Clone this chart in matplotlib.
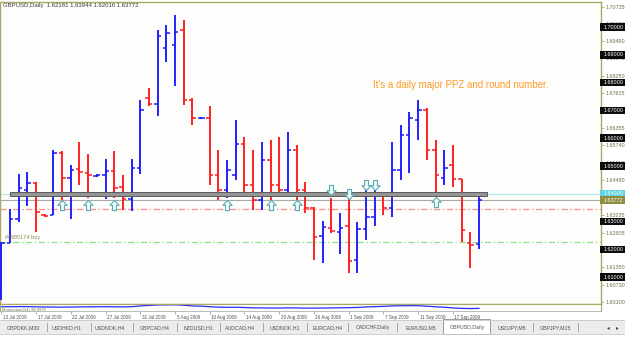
import matplotlib
matplotlib.use("Agg")
import matplotlib.pyplot as plt
import numpy as np
from matplotlib.path import Path
from matplotlib.patches import Rectangle
import matplotlib.transforms as mtransforms

# ---------------- data ----------------
symbol_header = "GBPUSD,Daily  1.62181 1.63944 1.62016 1.63772"
opens = [1.6054, 1.6223, 1.6309, 1.6414, 1.6439, 1.6324, 1.6324, 1.6547, 1.6457, 1.6489,
         1.6475, 1.6464, 1.6468, 1.6482, 1.6425, 1.6381, 1.6493, 1.6745, 1.6723, 1.6925,
         1.6935, 1.6989, 1.6737, 1.6673, 1.6673, 1.6468, 1.6414, 1.6468, 1.6579, 1.6432,
         1.6378, 1.6522, 1.6432, 1.6414, 1.6558, 1.6414, 1.6349, 1.6248, 1.6277, 1.6263,
         1.6284, 1.6162, 1.6273, 1.6317, 1.6399, 1.6349, 1.6486, 1.6612, 1.6666, 1.6701,
         1.6558, 1.6457, 1.6504, 1.6453, 1.6223, 1.62181]
highs = [1.6227, 1.6345, 1.6471, 1.6478, 1.6442, 1.6327, 1.6558, 1.6554, 1.6504, 1.6586,
         1.6543, 1.6471, 1.6525, 1.6554, 1.6468, 1.6525, 1.6737, 1.6781, 1.6989, 1.7007,
         1.7043, 1.7025, 1.6745, 1.6676, 1.6716, 1.6558, 1.6522, 1.6666, 1.6604, 1.6558,
         1.6586, 1.6594, 1.6604, 1.6622, 1.6576, 1.6442, 1.6353, 1.6302, 1.6385, 1.6331,
         1.6385, 1.6299, 1.6450, 1.6421, 1.6407, 1.6586, 1.6648, 1.6694, 1.6737, 1.6709,
         1.6594, 1.6558, 1.6576, 1.6453, 1.6263, 1.63944]
lows = [1.6018, 1.6223, 1.6299, 1.6356, 1.6263, 1.6317, 1.6324, 1.6378, 1.6309, 1.6432,
        1.6385, 1.6460, 1.6381, 1.6385, 1.6342, 1.6338, 1.6471, 1.6716, 1.6680, 1.6874,
        1.6788, 1.6719, 1.6648, 1.6669, 1.6432, 1.6378, 1.6385, 1.6450, 1.6396, 1.6342,
        1.6342, 1.6378, 1.6396, 1.6396, 1.6378, 1.6331, 1.6162, 1.6151, 1.6259, 1.6184,
        1.6115, 1.6115, 1.6234, 1.6284, 1.6324, 1.6317, 1.6450, 1.6475, 1.6594, 1.6522,
        1.6396, 1.6432, 1.6425, 1.6227, 1.6133, 1.62016]
closes = [1.6223, 1.6309, 1.6421, 1.6439, 1.6335, 1.6320, 1.6547, 1.6457, 1.6486, 1.6478,
          1.6468, 1.6468, 1.6482, 1.6421, 1.6381, 1.6493, 1.6701, 1.6723, 1.6968, 1.6978,
          1.6982, 1.6737, 1.6673, 1.6673, 1.6468, 1.6414, 1.6486, 1.6579, 1.6432, 1.6378,
          1.6522, 1.6432, 1.6414, 1.6558, 1.6414, 1.6349, 1.6245, 1.6281, 1.6266, 1.6277,
          1.6158, 1.6273, 1.6317, 1.6392, 1.6349, 1.6486, 1.6612, 1.6673, 1.6701, 1.6558,
          1.6468, 1.6493, 1.6453, 1.6270, 1.6216, 1.63772]
momentum = [100.9, 100.9, 101.0, 101.0, 100.8, 100.6, 100.5, 100.4, 100.5, 100.7,
            100.8, 100.8, 100.9, 100.8, 100.7, 100.9, 101.8, 102.4, 102.9, 103.0,
            103.1, 102.6, 101.8, 101.5, 100.9, 100.4, 100.2, 100.3, 100.0, 99.6,
            99.5, 99.4, 99.4, 99.6, 99.5, 99.3, 99.3, 99.4, 99.5, 99.7,
            99.8, 100.1, 100.6, 101.0, 101.3, 101.8, 102.0, 102.1, 102.0, 101.5,
            100.8, 100.3, 99.5, 99.0, 98.8, 99.0]
momentum_label = "Momentum(14) 98.9975"

date_idx = [0, 4, 8, 12, 16, 20, 24, 28, 32, 36, 40, 44, 48, 52]
date_labels = ["13 Jul 2009", "17 Jul 2009", "22 Jul 2009", "27 Jul 2009", "31 Jul 2009",
               "5 Aug 2009", "10 Aug 2009", "14 Aug 2009", "20 Aug 2009", "26 Aug 2009",
               "1 Sep 2009", "7 Sep 2009", "11 Sep 2009", "17 Sep 2009"]

price_ticks = [1.70735, 1.70120, 1.69490, 1.68875, 1.68250, 1.67615, 1.66985, 1.66355,
               1.65740, 1.65110, 1.64480, 1.63235, 1.62605, 1.61975, 1.61350,
               1.60730, 1.60100]
round_levels = [1.70, 1.69, 1.68, 1.67, 1.66, 1.65, 1.63, 1.62, 1.61]
zone_level = 1.64000
bid_price = 1.63772
sl_level = 1.63453
order_level = 1.62266
order_text = "#6685174 buy"
note_text = "It's a daily major PPZ and round number."

up_arrow_idx = [7, 10, 13, 26, 31, 34, 50]
up_arrow_price = [1.6360, 1.6360, 1.6360, 1.6360, 1.6360, 1.6360, 1.6369]
down_arrow_idx = [38, 40, 42, 43]
down_arrow_price = [1.6414, 1.6401, 1.6432, 1.6432]

tab_names = ["GBPDKK,M30", "USDHKD,H1", "USDNOK,H4", "GBPCAD,H4", "NZDUSD,H1", "AUDCAD,H4",
             "USDNOK,H1", "EURCAD,H4", "CADCHF,Daily", "EURUSD,M5", "GBPUSD,Daily",
             "USDJPY,M5", "GBPJPY,M15"]
tab_x = [23.5, 67, 110, 155, 198, 240, 285, 328, 373, 421, 467, 512, 555]
tab_sep_x = [47, 91, 133, 177, 220, 263, 307, 348, 397, 533, 578]
active_tab = "GBPUSD,Daily"

# ---------------- layout helpers ----------------
W, H = 625, 339
fig = plt.figure(figsize=(W / 100, H / 100), dpi=100)
fig.patch.set_facecolor("white")
FONT = "Liberation Sans"
OLIVE = "#a9a965"
LABEL = "#6e6e48"


def frac(x0, y0, x1, y1):
    return [x0 / W, 1 - y1 / H, (x1 - x0) / W, (y1 - y0) / H]


px_per_bar = 8.685
x0_px = 1.3
xmin = (0 - x0_px) / px_per_bar
xmax = (601 - x0_px) / px_per_bar
px_per_price = 2780.0
ytop = 1.70 + (27 - 2) / px_per_price
ybot = 1.70 - (304 - 27) / px_per_price

ax = fig.add_axes(frac(0, 2, 601, 304))
ax.set_facecolor("#fdfdfb")
ax.set_xlim(xmin, xmax)
ax.set_ylim(ybot, ytop)
for s in ax.spines.values():
    s.set_color(OLIVE)
    s.set_linewidth(1.0)
ax.tick_params(axis="x", bottom=False, labelbottom=False)

# price axis ticks / labels (right side)
ax.yaxis.tick_right()
ax.set_yticks(price_ticks)
ax.set_yticklabels([f"{p:.5f}" for p in price_ticks])
ax.tick_params(axis="y", right=True, left=False, length=2, width=0.6, color=OLIVE,
               pad=1.2, labelsize=3.9, labelcolor=LABEL)
for t in ax.get_yticklabels():
    t.set_fontfamily(FONT)

# ---------------- horizontal lines ----------------
ax.axhline(zone_level, color="#62d3e3", lw=0.8, ls=(0, (1.2, 1.2)), zorder=1)
ax.axhline(bid_price, color="#a9a9a9", lw=0.8, zorder=1)
ax.axhline(sl_level, color="#ff8f8f", lw=0.9, ls=(0, (5, 2, 1.2, 2)), zorder=1)
ax.axhline(order_level, color="#8fe08f", lw=0.9, ls=(0, (5, 2, 1.2, 2)), zorder=1)

# ---------------- OHLC bars ----------------
idx = np.arange(len(opens))
o = np.array(opens); h = np.array(highs); l = np.array(lows); c = np.array(closes)
cols = np.where(c >= o, "#1a1aff", "#ff1a1a")
ax.vlines(idx, l, h, colors=cols, lw=1.35, zorder=3)
ax.hlines(o, idx - 0.4, idx, colors=cols, lw=1.1, zorder=3)
ax.hlines(c, idx, idx + 0.4, colors=cols, lw=1.1, zorder=3)

# PPZ zone band
zone_left = (10 - x0_px) / px_per_bar
zone_right = (487 - x0_px) / px_per_bar
band_h = 4.0 / px_per_price
ax.add_patch(Rectangle((zone_left, zone_level - 0.0002 - band_h / 2 + 0.00005),
                       zone_right - zone_left, band_h,
                       facecolor="#959595", edgecolor="#5c5c5c", lw=0.7, zorder=4))

# arrows
up_path = Path([(0, 0.5), (0.45, 0.02), (0.19, 0.02), (0.19, -0.5), (-0.19, -0.5),
                (-0.19, 0.02), (-0.45, 0.02), (0, 0.5)],
               [Path.MOVETO] + [Path.LINETO] * 6 + [Path.CLOSEPOLY])
down_path = Path([(x, -y) for x, y in up_path.vertices], up_path.codes)
ax.plot(up_arrow_idx, up_arrow_price, ls="none", marker=up_path, ms=7.3,
        mfc="#f4fbfb", mec="#55aab2", mew=0.8, zorder=5)
ax.plot(down_arrow_idx, down_arrow_price, ls="none", marker=down_path, ms=7.3,
        mfc="#f4fbfb", mec="#55aab2", mew=0.8, zorder=5)

# texts in chart
ax.text(0.4, order_level + 4.5 / px_per_price, order_text, fontsize=4.0, family=FONT,
        color="#8a8a5c", va="center", ha="left", zorder=6)
ax.text((373 - x0_px) / px_per_bar, 1.70 - (85 - 27) / px_per_price, note_text,
        fontsize=7, family=FONT, color="#ff9a2a", va="center", ha="left", zorder=6)
ax.text(3 / 601, 1 - 4 / 302, symbol_header, transform=ax.transAxes, fontsize=4.3,
        family=FONT, color="#3c3c3c", va="center", ha="left", zorder=6)

# boxed price labels on the axis
blend = mtransforms.blended_transform_factory(ax.transAxes, ax.transData)
bw = (625 - 600) / 601
bh = 7.5 / px_per_price


def boxed(price, bg, fg):
    ax.add_patch(Rectangle((600 / 601, price - bh / 2), bw, bh, transform=blend,
                           facecolor=bg, edgecolor="none", clip_on=False, zorder=7))
    ax.text(604 / 601, price, f"{price:.5f}", transform=blend, fontsize=3.9,
            family=FONT, color=fg, va="center", ha="left", clip_on=False, zorder=8)


for lv in round_levels:
    boxed(lv, "#0c0c0c", "white")
boxed(zone_level, "#5fd3e0", "white")
boxed(bid_price, "#8e8e3e", "white")

# ---------------- indicator window ----------------
ax2 = fig.add_axes(frac(0, 304, 601, 311))
ax2.set_facecolor("#fdfdfb")
ax2.set_xlim(xmin, xmax)
ax2.set_ylim(96, 104)
ax2.plot(idx, momentum, color="#2a2aff", lw=0.9)
ax2.set_yticks([])
for s in ("left", "top", "right"):
    ax2.spines[s].set_color(OLIVE)
    ax2.spines[s].set_linewidth(0.8)
ax2.spines["bottom"].set_color("#b0b0b0")
ax2.spines["bottom"].set_linestyle((0, (1, 1)))
ax2.spines["bottom"].set_linewidth(0.6)
ax2.text(0.003, 0.2, momentum_label, transform=ax2.transAxes, fontsize=3.0,
         family=FONT, color="#7a7a50", va="center", ha="left")
ax2.set_xticks(date_idx)
ax2.set_xticklabels(date_labels)
ax2.tick_params(axis="x", direction="out", length=2.2, width=0.6, color=OLIVE,
                pad=0.6, labelsize=3.3, labelcolor="#505050")
offset = mtransforms.ScaledTranslation(1.5 / 100, 0, fig.dpi_scale_trans)
for t in ax2.get_xticklabels():
    t.set_ha("left")
    t.set_fontfamily(FONT)
    t.set_transform(t.get_transform() + offset)

# ---------------- tab bar (pixel overlay) ----------------
ui = fig.add_axes([0, 0, 1, 1], zorder=-1)
ui.set_xlim(0, W)
ui.set_ylim(H, 0)
ui.axis("off")
ui.add_patch(Rectangle((0, 320), W, 14, facecolor="#ececec", edgecolor="none"))
ui.plot([0, W], [320, 320], color="#c8c8c8", lw=0.6)
ui.plot([0, W], [334, 334], color="#c8c8c8", lw=0.6)
for sx in tab_sep_x:
    ui.plot([sx, sx], [323, 331], color="#9a9a9a", lw=0.6)
for name, tx in zip(tab_names, tab_x):
    if name == active_tab:
        ui.add_patch(Rectangle((443, 319), 47, 15, facecolor="white",
                               edgecolor="#8a8a8a", lw=0.6))
    ui.text(tx, 327.5, name, fontsize=3.8, family=FONT, color="#505050",
            ha="center", va="center")
ui.text(608, 327.5, "\u25c2", fontsize=4, color="#404040", ha="center", va="center")
ui.text(617, 327.5, "\u25b8", fontsize=4, color="#404040", ha="center", va="center")

fig.savefig("out.png", dpi=100, facecolor=fig.get_facecolor())
